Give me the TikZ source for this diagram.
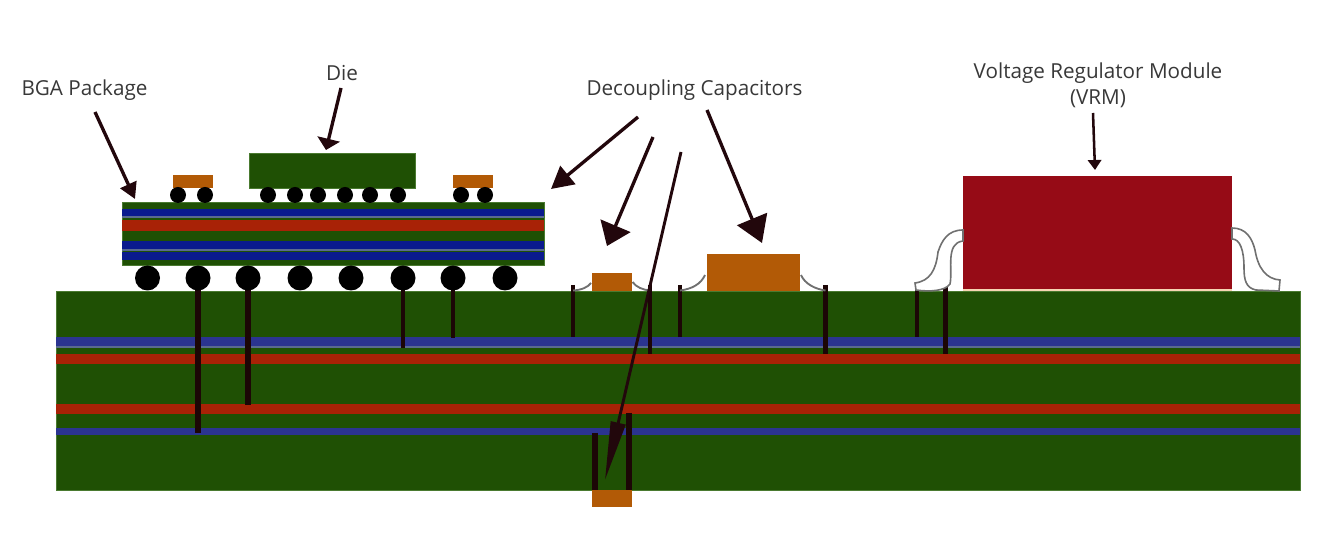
\documentclass[tikz,border=0pt]{standalone}
\usepackage{fontspec}
\setmainfont{Open Sans}
\usetikzlibrary{arrows.meta}
\definecolor{pcbgreen}{HTML}{1F5004}
\definecolor{pcbedge}{HTML}{4A7A30}
\definecolor{boardblue}{HTML}{2B3490}
\definecolor{bandgrey}{HTML}{5A6A90}
\definecolor{pkgblue}{HTML}{0A1A8E}
\definecolor{layerred}{HTML}{A82206}
\definecolor{capor}{HTML}{B25A06}
\definecolor{vrmred}{HTML}{960B16}
\definecolor{viablk}{HTML}{1C0606}
\definecolor{arrowdk}{HTML}{22070C}
\definecolor{leadgrey}{HTML}{707070}
\tikzset{
  x=0.75pt,y=-0.75pt,
  lbl/.style={font=\fontsize{15.5}{19.5}\selectfont,text=black!78,inner sep=0pt,align=center},
  pcb/.style={fill=pcbgreen,draw=pcbedge,line width=0.4pt},
  capbox/.style={fill=capor},
  ball/.style={fill=black},
  via/.style={draw=viablk,line cap=butt},
  lead/.style={draw=leadgrey,line width=1.4pt},
  vrmlead/.style={draw=leadgrey,fill=white,line width=1.2pt},
  ptr/.style={draw=arrowdk,fill=arrowdk,line width=2.5pt},
}
\begin{document}
\begin{tikzpicture}
\useasboundingbox (0,0) rectangle (1325,555);
% board
\path[pcb] (56,291) rectangle (1300,490);
\fill[boardblue] (56,337) rectangle (1300,346);
\fill[bandgrey] (56,346) rectangle (1300,348);
\fill[layerred] (56,354.5) rectangle (1300,364.5);
\fill[layerred] (56,404.5) rectangle (1300,414.5);
\fill[boardblue] (56,428) rectangle (1300,435.5);
% package
\path[pcb] (122,202) rectangle (544,265.5);
\fill[pkgblue] (122,209) rectangle (544,216.5);
\fill[bandgrey] (122,216.5) rectangle (544,218.5);
\fill[layerred] (122,220.5) rectangle (544,231);
\fill[pkgblue] (122,241) rectangle (544,249);
\fill[bandgrey] (122,249) rectangle (544,251);
\fill[pkgblue] (122,252.5) rectangle (544,260);
% die and package caps
\path[pcb] (249,153.5) rectangle (415,188);
\path[capbox] (173,175) rectangle (213,188);
\path[capbox] (453,175) rectangle (493,188);
% small balls
\foreach \bx in {178,205,268,295,318,345,370,398,461,485}
  \path[ball] (\bx,195) circle (8);
% vias
\draw[via,line width=5.2pt] (198,278) -- (198,433);
\draw[via,line width=4.6pt] (248,278) -- (248,405);
\foreach \vx/\vy in {403/348,453/338,573/337,650/354,680/337,825.5/354,917/337,945.5/354}
  \draw[via,line width=3.5pt] (\vx,285) -- (\vx,\vy);
\draw[via,line width=4.6pt] (595,433) -- (595,491);
\draw[via,line width=4.6pt] (629,413) -- (629,491);
% large balls
\foreach \bx in {147.5,198,248,300,351,403,453,505}
  \path[ball] (\bx,278) circle (12.5);
% capacitors
\path[capbox] (592,273) rectangle (632,291);
\path[capbox] (707,254) rectangle (800,291);
\path[capbox] (592,490) rectangle (632,507.5);
\draw[lead] (573,290.5) .. controls (582,290) and (588,287) .. (591,283);
\draw[lead] (632.5,282) .. controls (636,287) and (643,290) .. (650,290.5);
\draw[lead] (680,290.5) .. controls (692,289) and (701,284) .. (705,275);
\draw[lead] (801,275) .. controls (805,284) and (815,289) .. (825.5,290.5);
% VRM
\fill[vrmred] (963,176) rectangle (1232,289);
\fill[black!10!orange!30] (963,289) rectangle (1232,291);
\path[vrmlead] (963,230) .. controls (948,230) and (942,240) .. (938,252)
  .. controls (936,270) and (930,281) .. (915,283) -- (916,290)
  .. controls (930,292) and (945,291) .. (950,284)
  .. controls (953,270) and (945,243) .. (963,241) -- cycle;
\path[vrmlead] (1232,228) .. controls (1246,228) and (1252,238) .. (1255,250)
  .. controls (1258,268) and (1266,279) .. (1280,280) -- (1279,291)
  -- (1256,290) .. controls (1246,288) and (1244,280) .. (1244,268)
  .. controls (1244,250) and (1240,239) .. (1232,239) -- cycle;
% labels
\node[lbl] (bga) at (84.5,90) {BGA Package};
\node[lbl] (dielbl) at (342,73) {Die};
\node[lbl] (decap) at (694.5,90) {Decoupling Capacitors};
\node[lbl] (vrm) at (1098,85) {Voltage Regulator Module\\(VRM)};
% pointers
\coordinate (bgas) at (95,112); \coordinate (bgat) at (135,199);
\coordinate (dies) at (341,88); \coordinate (diet) at (326,150);
\coordinate (d1s) at (638,117); \coordinate (d1t) at (551,189);
\coordinate (d2s) at (653,137); \coordinate (d2t) at (607,246);
\coordinate (d3s) at (707,110); \coordinate (d3t) at (762,243);
\coordinate (d4s) at (681,152); \coordinate (d4t) at (605,480);
\coordinate (vs) at (1093,113); \coordinate (vt) at (1095,170);
\draw[ptr,-{Triangle[length=12pt,width=13pt]}] (bgas) -- (bgat);
\draw[ptr,-{Triangle[length=8.5pt,width=17pt]}] (dies) -- (diet);
\draw[ptr,-{Triangle[length=16.5pt,width=17.5pt]}] (d1s) -- (d1t);
\draw[ptr,-{Triangle[length=16.5pt,width=24pt]}] (d2s) -- (d2t);
\draw[ptr,-{Triangle[length=19.5pt,width=24pt]}] (d3s) -- (d3t);
\draw[ptr,line width=2.2pt,-{Triangle[length=44pt,width=11pt]}] (d4s) -- (d4t);
\draw[ptr,line width=1.9pt,-{Triangle[length=7.5pt,width=10pt]}] (vs) -- (vt);
\end{tikzpicture}
\end{document}
